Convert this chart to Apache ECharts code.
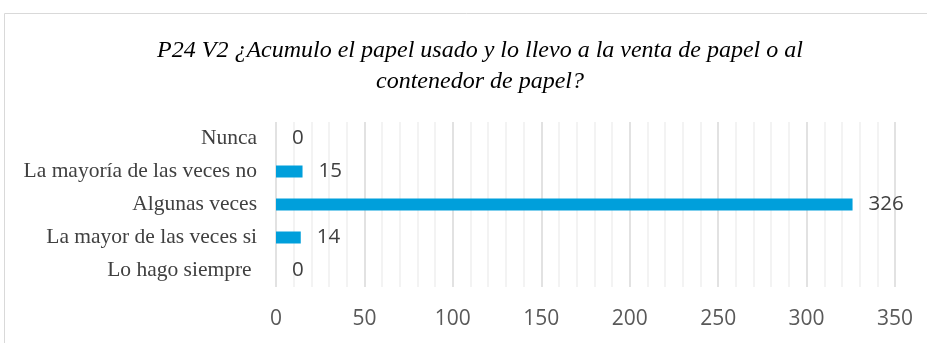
<!DOCTYPE html>
<html>
<head>
<meta charset="utf-8">
<script src="https://cdn.jsdelivr.net/npm/echarts@6/dist/echarts.min.js"></script>
<style>
  html, body { margin: 0; padding: 0; background: #fff; }
  #chart { width: 927px; height: 343px; }
</style>
</head>
<body>
<div id="chart"></div>
<script>
// Response categories, listed top to bottom
const categories = [
  'Nunca',
  'La mayoría de las veces no',
  'Algunas veces',
  'La mayor de las veces si',
  'Lo hago siempre '
];
// Number of answers per category
const counts = [0, 15, 326, 14, 0];
// Value axis ticks
const axisTicks = [0, 50, 100, 150, 200, 250, 300, 350];

const titleText = 'P24 V2 ¿Acumulo el papel usado y lo llevo a la venta de papel o al\ncontenedor de papel?';

const chart = echarts.init(document.getElementById('chart'));
chart.setOption({
  animation: false,
  graphic: [{
    type: 'rect',
    shape: { x: 4.5, y: 13.5, width: 940, height: 340 },
    style: { fill: 'none', stroke: '#d9d9d9', lineWidth: 1 },
    silent: true
  }],
  title: {
    text: titleText,
    left: 475,
    top: 30,
    textAlign: 'center',
    textStyle: {
      fontFamily: '"Liberation Serif", "Times New Roman", serif',
      fontStyle: 'italic',
      fontWeight: 'normal',
      fontSize: 24,
      lineHeight: 31,
      color: '#000'
    }
  },
  grid: { left: 276, right: 32, top: 122, bottom: 56, containLabel: false },
  xAxis: {
    type: 'value',
    min: axisTicks[0],
    max: axisTicks[axisTicks.length - 1],
    interval: axisTicks[1] - axisTicks[0],
    axisLine: { show: false },
    axisTick: { show: false },
    axisLabel: {
      margin: 22,
      fontFamily: '"Open Sans", sans-serif',
      fontSize: 21,
      color: '#595959'
    },
    splitLine: { show: true, lineStyle: { color: '#d9d9d9', width: 1.5 } },
    minorTick: { show: false, splitNumber: 5 },
    minorSplitLine: { show: true, lineStyle: { color: '#f0f0f0', width: 1.5 } }
  },
  yAxis: {
    type: 'category',
    data: categories,
    inverse: true,
    axisLine: { show: false },
    axisTick: { show: false },
    axisLabel: {
      margin: 19,
      fontFamily: '"Liberation Serif", "Times New Roman", serif',
      fontSize: 21.5,
      color: '#404040'
    }
  },
  series: [{
    type: 'bar',
    data: counts,
    barWidth: 12,
    itemStyle: { color: '#009fdb' },
    label: {
      show: true,
      position: 'right',
      distance: 16,
      fontFamily: '"Open Sans", sans-serif',
      fontSize: 20.5,
      color: '#404040'
    }
  }]
});
</script>
</body>
</html>
